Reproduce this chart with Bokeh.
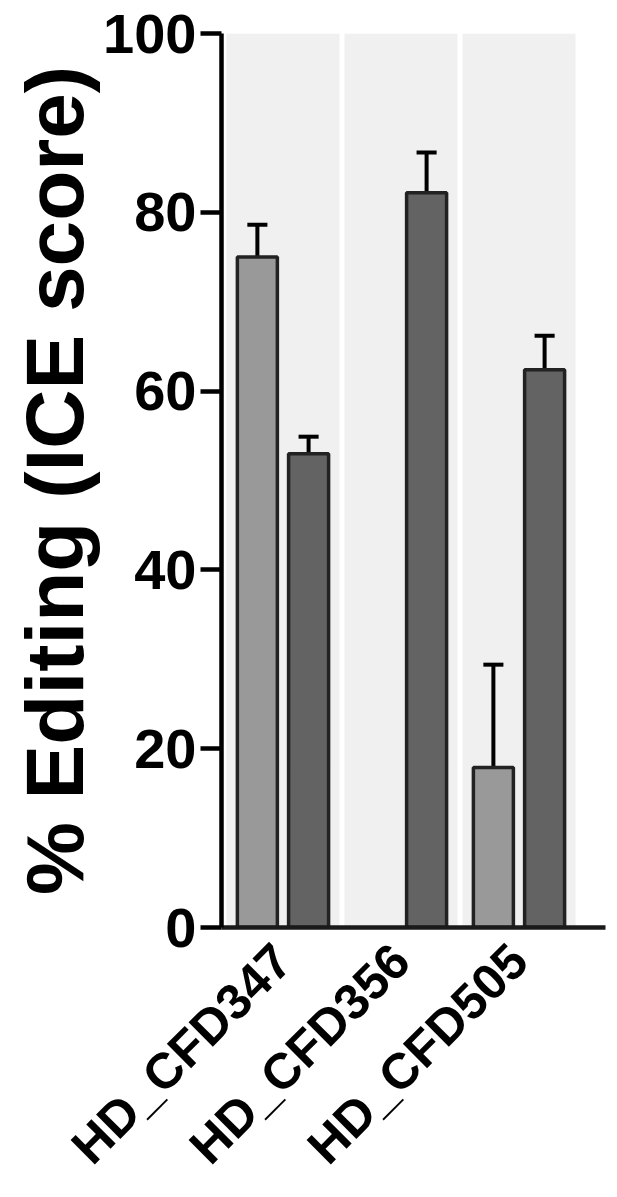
from bokeh.plotting import figure
from bokeh.models import FixedTicker, Range1d
from bokeh.embed import file_html
from bokeh.resources import INLINE

groups = ["HD_CFD347", "HD_CFD356", "HD_CFD505"]
light_vals = [75.0, None, 17.9]
light_err = [3.6, None, 11.5]
dark_vals = [53.0, 82.2, 62.4]
dark_err = [1.9, 4.5, 3.8]
y_ticks = [0, 20, 40, 60, 80, 100]
y_title = "% Editing (ICE score)"

xc = list(range(len(groups)))
off = 0.217
bw = 0.339
cap = 0.085

p = figure(width=609, height=1197, output_backend="svg", toolbar_location=None,
           x_range=Range1d(-0.521, 2.733), y_range=Range1d(0, 100),
           min_border_left=221, min_border_right=4, min_border_top=33, min_border_bottom=269)
p.outline_line_color = None
p.grid.visible = False
p.background_fill_color = "white"

# shaded group backgrounds
p.vbar(x=xc, width=0.958, top=100, bottom=0, fill_color="#f0f0f0", line_color=None)

lx = [x - off for x, v in zip(xc, light_vals) if v is not None]
lv = [v for v in light_vals if v is not None]
le = [e for e in light_err if e is not None]
dx = [x + off for x in xc]

for xs, vs, es in [(lx, lv, le), (dx, dark_vals, dark_err)]:
    hi = [v + e for v, e in zip(vs, es)]
    p.segment(x0=xs, y0=vs, x1=xs, y1=hi, line_color="black", line_width=4)
    p.segment(x0=[x - cap for x in xs], y0=hi, x1=[x + cap for x in xs], y1=hi,
              line_color="black", line_width=4)

p.vbar(x=lx, width=bw, top=lv, bottom=0, fill_color="#999999", line_color="#222222", line_width=3.5)
p.vbar(x=dx, width=bw, top=dark_vals, bottom=0, fill_color="#636363", line_color="#222222", line_width=3.5)

ya = p.yaxis[0]
ya.ticker = FixedTicker(ticks=y_ticks)
ya.axis_line_width = 4.5
ya.major_tick_line_width = 4.5
ya.major_tick_out = 21
ya.major_tick_in = 0
ya.minor_tick_line_color = None
ya.major_label_text_font = "Liberation Sans"
ya.major_label_text_font_style = "bold"
ya.major_label_text_font_size = "56px"
ya.major_label_text_color = "black"
ya.major_label_standoff = 4
ya.axis_label = y_title
ya.axis_label_text_font = "Liberation Sans"
ya.axis_label_text_font_style = "bold"
ya.axis_label_text_font_size = "82px"
ya.axis_label_text_color = "black"
ya.axis_label_standoff = 0

xa = p.xaxis[0]
xa.ticker = FixedTicker(ticks=xc)
xa.major_label_overrides = {i: g for i, g in enumerate(groups)}
xa.axis_line_width = 4.5
xa.axis_line_color = "#1a1a1a"
xa.major_tick_line_color = None
xa.minor_tick_line_color = None
xa.major_label_orientation = 0.785
xa.major_label_text_font = "Liberation Sans"
xa.major_label_text_font_style = "bold"
xa.major_label_text_font_size = "50px"
xa.major_label_text_color = "black"
xa.major_label_standoff = 19

open("out.html", "w").write(file_html(p, INLINE))
